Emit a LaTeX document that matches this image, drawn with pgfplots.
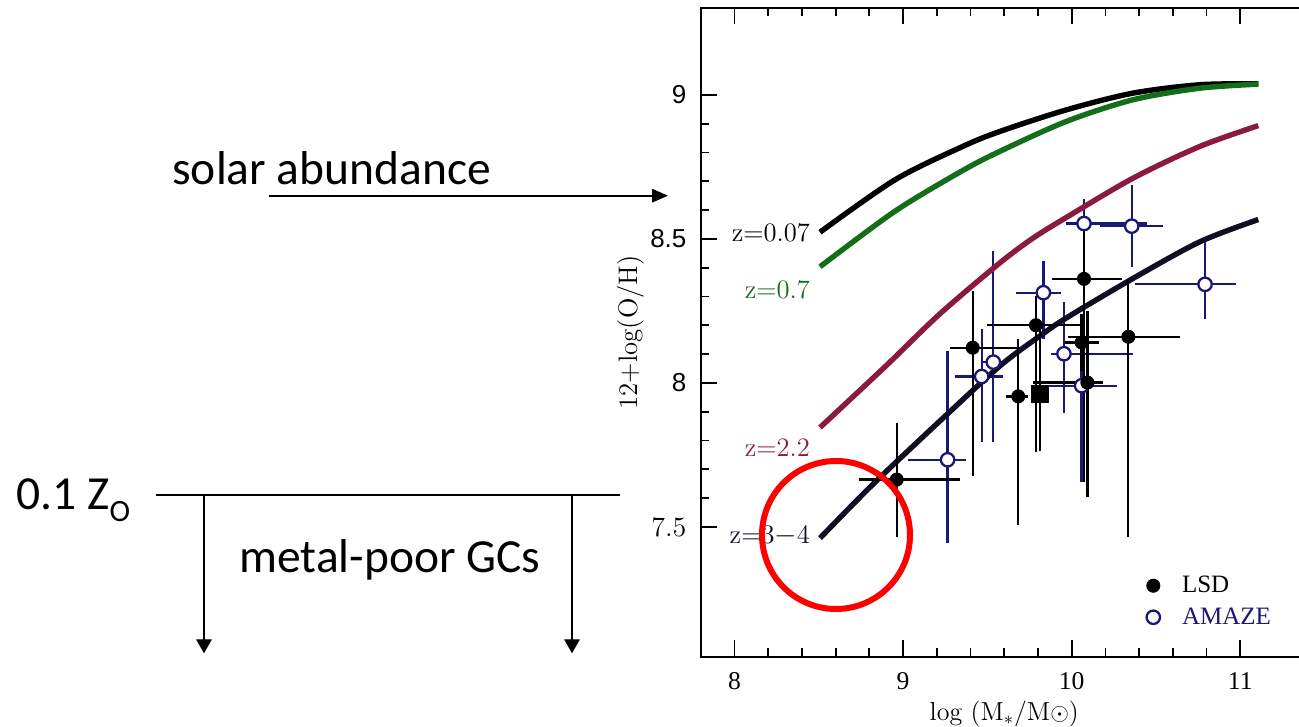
\documentclass[border=0pt]{standalone}
\usepackage{fontspec}
\usepackage{pgfplots}
\pgfplotsset{compat=1.18}
\usepackage{pgfplotstable}
\usetikzlibrary{arrows.meta}
\newfontfamily\timesf{Liberation Serif}
\newfontfamily\arialf{Liberation Sans}
\newfontfamily\calibri{Carlito}
\definecolor{zgreen}{RGB}{20,110,25}
\definecolor{zred}{RGB}{140,25,65}
\definecolor{navy}{RGB}{25,25,115}
\definecolor{zdark}{RGB}{15,15,35}

\pgfplotstableread{
x y xm xp ym yp
8.962 7.664 0.222 0.375 0.198 0.198
9.413 8.122 0.135 0.280 0.447 0.196
9.683 7.953 0.070 0.060 0.446 0.198
9.788 8.200 0.292 0.280 0.440 0.100
10.073 8.361 0.192 0.224 0.706 0.171
10.059 8.140 0.100 0.100 0.100 0.100
10.093 8.001 0.321 0.094 0.398 0.248
10.336 8.160 0.356 0.306 0.696 0.199
}\lsd

\pgfplotstableread{
x y xm xp ym yp
9.812 7.961 0.0 0.0 0.197 0.240
}\lsdsq

\pgfplotstableread{
x y xm xp ym yp
9.264 7.733 0.233 0.107 0.289 0.378
9.466 8.022 0.158 0.125 0.229 0.166
9.535 8.072 0.060 0.060 0.279 0.387
9.832 8.313 0.162 0.105 0.162 0.109
9.954 8.101 0.078 0.408 0.204 0.179
10.059 7.990 0.200 0.210 0.335 0.200
10.073 8.553 0.109 0.372 0.080 0.086
10.356 8.544 0.186 0.187 0.141 0.144
10.791 8.342 0.416 0.184 0.119 0.156
}\amaze

\begin{document}
\begin{tikzpicture}
\useasboundingbox (0,0) rectangle (649.5pt,363.5pt);
\begin{axis}[
  scale only axis, width=303.45pt, height=324.05pt,
  at={(350.4pt,35.25pt)}, anchor=south west,
  xmin=7.8, xmax=11.4, ymin=7.05, ymax=9.3,
  xtick={8,9,10,11}, xticklabels={8,9,10,11}, minor x tick num=4,
  ytick={7.5,8,8.5,9}, minor y tick num=4,
  yticklabels={{\fontsize{14pt}{14pt}\selectfont 7.5},{\arialf\fontsize{13pt}{13pt}\selectfont 8},{\arialf\fontsize{13pt}{13pt}\selectfont 8.5},{\arialf\fontsize{13pt}{13pt}\selectfont 9}},
  xticklabel style={font=\timesf\fontsize{12.8pt}{13pt}\selectfont, inner sep=0pt, anchor=north, yshift=-8pt},
  yticklabel style={inner sep=0pt, anchor=east, xshift=-7pt},
  ytick pos=left, xtick pos=both, tick align=inside,
  major tick length=8pt, minor tick length=4pt,
  every tick/.style={black, line width=0.9pt},
  axis line style={line width=1pt},
  clip=false,
  xlabel={log (M$_*$/M$\odot$)},
  xlabel style={at={(axis description cs:0.5,-0.0887)}, anchor=center, font=\fontsize{13pt}{14pt}\selectfont},
  ylabel={12+log(O/H)},
  ylabel style={at={(axis description cs:-0.115,0.5)}, anchor=center, font=\fontsize{13.4pt}{14pt}\selectfont},
  legend style={at={(axis cs:10.442,7.331)}, anchor=north west, draw=none, fill=none, inner sep=0pt, row sep=6pt, column sep=11pt, font=\timesf\fontsize{12.5pt}{13pt}\selectfont, nodes={inner sep=0pt}},
  legend cell align=left,
  legend image code/.code={\draw[#1] plot coordinates {(0pt,0pt)};},
]
% AMAZE
\addplot[forget plot, only marks, mark=*, mark size=3.35pt, mark options={draw=navy, fill=white, line width=1.15pt},
  error bars/.cd, x dir=both, x explicit, y dir=both, y explicit, error mark=none,
  error bar style={line width=1.15pt, navy}]
  table[x=x, y=y, x error plus=xp, x error minus=xm, y error plus=yp, y error minus=ym] {\amaze};
% curves
\addplot[forget plot, smooth, black, line width=2.7pt] coordinates {
(8.507,8.523) (8.952,8.705) (9.347,8.819) (9.575,8.873) (9.970,8.948) (10.365,9.006) (10.761,9.035) (11.107,9.038)};
\addplot[forget plot, smooth, zgreen, line width=2.7pt] coordinates {
(8.507,8.403) (8.952,8.596) (9.347,8.735) (9.575,8.804) (9.970,8.908) (10.365,8.983) (10.761,9.023) (11.107,9.037)};
\addplot[forget plot, smooth, zred, line width=2.7pt] coordinates {
(8.507,7.845) (8.900,8.060) (9.219,8.240) (9.575,8.417) (9.772,8.503) (9.970,8.575) (10.365,8.711) (10.761,8.821) (11.107,8.893)};
\addplot[forget plot, smooth, zdark, line width=2.7pt] coordinates {
(8.507,7.461) (8.823,7.649) (9.219,7.868) (9.575,8.059) (9.812,8.163) (9.970,8.226) (10.365,8.363) (10.761,8.490) (11.107,8.567)};
% LSD
\addplot[forget plot, only marks, mark=*, mark size=3.3pt, mark options={draw=black, fill=black},
  error bars/.cd, x dir=both, x explicit, y dir=both, y explicit, error mark=none,
  error bar style={line width=1.15pt, black}]
  table[x=x, y=y, x error plus=xp, x error minus=xm, y error plus=yp, y error minus=ym] {\lsd};
\addplot[forget plot, only marks, mark=square*, mark size=4.4pt, mark options={draw=black, fill=black},
  error bars/.cd, x dir=both, x explicit, y dir=both, y explicit, error mark=none,
  error bar style={line width=1.15pt, black}]
  table[x=x, y=y, x error plus=xp, x error minus=xm, y error plus=yp, y error minus=ym] {\lsdsq};
% legend
\addlegendimage{only marks, mark=*, mark size=3.3pt, black}
\addlegendentry{LSD}
\addlegendimage{only marks, mark=*, mark size=3.35pt, mark options={draw=navy, fill=white, line width=1.15pt}}
\addlegendentry{\textcolor{navy}{AMAZE}}
% curve labels
\node[anchor=east, inner sep=0pt, font=\fontsize{13.3pt}{14pt}\selectfont] at (axis cs:8.45,8.521) {z=0.07};
\node[anchor=east, inner sep=0pt, text=zgreen, font=\fontsize{13.3pt}{14pt}\selectfont] at (axis cs:8.45,8.324) {z=0.7};
\node[anchor=east, inner sep=0pt, text=zred, font=\fontsize{13.3pt}{14pt}\selectfont] at (axis cs:8.45,7.775) {z=2.2};
\node[anchor=east, inner sep=0pt, text=zdark, font=\fontsize{13.3pt}{14pt}\selectfont] at (axis cs:8.45,7.470) {z=3$-$4};
\end{axis}
% slide annotations
\node[anchor=base west, inner sep=0pt, font=\calibri\fontsize{23.75pt}{28pt}\selectfont] at (86pt,271pt) {solar abundance};
\draw[line width=1pt, -{Triangle[length=8pt,width=6.7pt]}] (134.3pt,265.65pt) -- (334pt,265.65pt);
\node[anchor=base west, inner sep=0pt, font=\calibri\fontsize{23.75pt}{28pt}\selectfont] at (8pt,108.5pt) {0.1 Z\raisebox{-6pt}{\fontsize{15.5pt}{16pt}\selectfont O}};
\draw[line width=0.85pt] (78pt,116pt) -- (310pt,116pt);
\draw[line width=0.7pt, -{Triangle[length=7pt,width=7.8pt]}] (102pt,116pt) -- (102pt,36.85pt);
\draw[line width=0.7pt, -{Triangle[length=7pt,width=7.8pt]}] (286pt,116pt) -- (286pt,36.85pt);
\node[anchor=base west, inner sep=0pt, font=\calibri\fontsize{23.75pt}{28pt}\selectfont] at (119.5pt,77pt) {metal-poor GCs};
\draw[red, line width=3pt] (418pt,96pt) circle [radius=37pt];
\end{tikzpicture}
\end{document}
